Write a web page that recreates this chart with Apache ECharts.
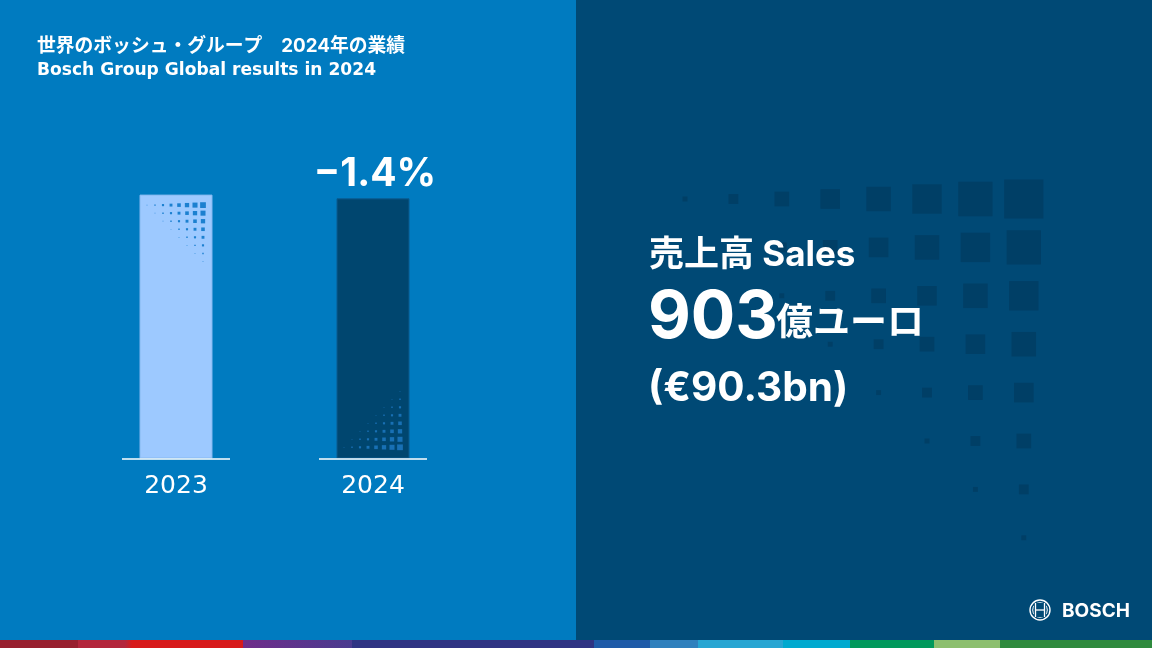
<!DOCTYPE html>
<html><head><meta charset="utf-8">
<script src="https://cdn.jsdelivr.net/npm/echarts@6/dist/echarts.min.js"></script>
<style>html,body{margin:0;padding:0;background:#007BC0}#c{width:1152px;height:648px}</style>
</head><body><div id="c"></div>
<script>
const categories = ['2023', '2024'];
const salesBn = [91.6, 90.3];
const changeLabels = ['', '\u22121.4%'];
const patternCorner = ['topRight', 'bottomRight'];
const titleJa = '世界のボッシュ・グループ\u30002024年の業績';
const titleEn = 'Bosch Group Global results in 2024';
const headline = '売上高 Sales';
const bigValue = '903';
const bigUnit = '億ユーロ';
const valueEur = '(€90.3bn)';

const LAT = "Inter,'Noto Sans','Noto Sans CJK JP',sans-serif";
const CJK = "Inter,'Noto Sans CJK JP','Noto Sans',sans-serif";

const barFill = ['#9DC9FF', '#00466F'];
const barStroke = ['#86B9F0', '#0B5A8E'];
const dotFill = ['#1C80D0', '#1870B4'];

function renderBar(params, api) {
  const i = api.value(0), v = api.value(1);
  const top = api.coord([i, v]);
  const base = api.coord([i, 0]);
  const cx = top[0], w = 72, left = cx - w / 2;
  const h = base[1] - top[1];
  const children = [{
    type: 'rect', shape: { x: left, y: top[1], width: w, height: h },
    style: { fill: barFill[i], stroke: barStroke[i], lineWidth: 1 }
  }];
  const corner = patternCorner[i];
  for (let r = 0; r < 8; r++) {
    for (let c = 0; c < 8; c++) {
      let k, cyy;
      if (corner === 'topRight') { k = c - r + 1; cyy = top[1] + 10 + 8.05 * r; }
      else { k = c - (7 - r) + 1; cyy = base[1] - 10.7 - 8 * (7 - r); }
      if (k < 1) continue;
      const s = 0.72 * k;
      const cxx = left + 7 + 8 * c;
      children.push({ type: 'rect', shape: { x: cxx - s / 2, y: cyy - s / 2, width: s, height: s },
        style: { fill: dotFill[i] } });
    }
  }
  children.push({ type: 'line', shape: { x1: cx - 54, y1: base[1] + 1, x2: cx + 54, y2: base[1] + 1 },
    style: { stroke: '#ffffff', lineWidth: 1.5 } });
  if (changeLabels[i]) {
    children.push({ type: 'text', style: { text: changeLabels[i], x: cx + 2, y: top[1] - 25,
      align: 'center', verticalAlign: 'middle', fill: '#ffffff',
      font: "bold 39px " + LAT } });
  }
  return { type: 'group', children };
}

const graphics = [];
graphics.push({ type: 'rect', shape: { x: 576, y: 0, width: 576, height: 640 }, style: { fill: '#004975' } });
for (let r = 0; r < 8; r++) {
  for (let c = r; c < 8; c++) {
    const s = 4.9 * (c - r + 1);
    const x = 685 + 48.4 * c, y = 199 + 48.4 * r;
    graphics.push({ type: 'rect', shape: { x: x - s / 2, y: y - s / 2, width: s, height: s }, style: { fill: '#003F66' } });
  }
}
graphics.push({ type: 'rect', shape: { x: 0, y: 640, width: 1152, height: 8 }, style: {
  fill: new echarts.graphic.LinearGradient(0, 0, 1, 0, [
    { offset: 0, color: '#98202F' }, { offset: 78/1152, color: '#98202F' },
    { offset: 78/1152, color: '#B3263C' }, { offset: 125/1152, color: '#B3263C' },
    { offset: 132/1152, color: '#D71A1B' }, { offset: 243/1152, color: '#D71A1B' },
    { offset: 243/1152, color: '#6F2D8A' }, { offset: 352/1152, color: '#4A3B8F' },
    { offset: 352/1152, color: '#2F3483' }, { offset: 594/1152, color: '#2F3483' },
    { offset: 594/1152, color: '#1F5BA8' }, { offset: 650/1152, color: '#1F5BA8' },
    { offset: 650/1152, color: '#2F80BD' }, { offset: 698/1152, color: '#2F80BD' },
    { offset: 698/1152, color: '#27A5D2' }, { offset: 783/1152, color: '#27A5D2' },
    { offset: 783/1152, color: '#00A9CF' }, { offset: 850/1152, color: '#00A9CF' },
    { offset: 850/1152, color: '#00995C' }, { offset: 934/1152, color: '#00995C' },
    { offset: 934/1152, color: '#8CBF6E' }, { offset: 1000/1152, color: '#8CBF6E' },
    { offset: 1000/1152, color: '#2F8A3E' }, { offset: 1, color: '#2F8A3E' }
  ]) } });
graphics.push({ type: 'text', style: { text: titleJa, x: 37, y: 46, verticalAlign: 'middle', fill: '#fff', font: "bold 18.8px " + CJK } });
graphics.push({ type: 'text', style: { text: titleEn, x: 37, y: 71, verticalAlign: 'middle', fill: '#fff', font: "bold 17.1px 'DejaVu Sans',sans-serif" } });
graphics.push({ type: 'text', style: { text: headline, x: 649, y: 255, verticalAlign: 'middle', fill: '#fff', font: "bold 35px " + CJK } });
graphics.push({ type: 'text', style: { text: bigValue, x: 648, y: 318, verticalAlign: 'middle', fill: '#fff', font: "bold 66px " + LAT } });
graphics.push({ type: 'text', style: { text: bigUnit, x: 776, y: 324, verticalAlign: 'middle', fill: '#fff', font: "bold 37px " + CJK } });
graphics.push({ type: 'text', style: { text: valueEur, x: 648, y: 389, verticalAlign: 'middle', fill: '#fff', font: "bold 40.5px " + LAT } });
// Bosch logo
graphics.push({ type: 'circle', shape: { cx: 1040, cy: 610, r: 10 }, style: { fill: 'none', stroke: '#fff', lineWidth: 1.4 } });
graphics.push({ type: 'circle', shape: { cx: 1040, cy: 610, r: 7.3 }, style: { fill: 'none', stroke: '#fff', lineWidth: 1 } });
graphics.push({ type: 'rect', shape: { x: 1034, y: 603, width: 12, height: 14 }, style: { fill: '#004975' } });
graphics.push({ type: 'line', shape: { x1: 1035.5, y1: 603, x2: 1035.5, y2: 617 }, style: { stroke: '#fff', lineWidth: 1.3 } });
graphics.push({ type: 'line', shape: { x1: 1044.5, y1: 603, x2: 1044.5, y2: 617 }, style: { stroke: '#fff', lineWidth: 1.3 } });
graphics.push({ type: 'line', shape: { x1: 1035.5, y1: 610, x2: 1044.5, y2: 610 }, style: { stroke: '#fff', lineWidth: 1.3 } });
graphics.push({ type: 'text', style: { text: 'BOSCH', x: 1062, y: 611, verticalAlign: 'middle', fill: '#fff', font: "bold 19px " + LAT } });

const chart = echarts.init(document.getElementById('c'), null, { renderer: 'canvas' });
chart.setOption({
  backgroundColor: '#007BC0',
  animation: false,
  grid: { left: 77.5, width: 394, top: 171, height: 287 },
  xAxis: { type: 'category', data: categories, axisLine: { show: false }, axisTick: { show: false },
    axisLabel: { color: '#fff', fontSize: 25, margin: 16, fontFamily: "'DejaVu Sans',sans-serif" } },
  yAxis: { type: 'value', min: 0, max: 100, show: false },
  series: [{ type: 'custom', renderItem: renderBar, encode: { x: 0, y: 1 },
    data: salesBn.map((v, i) => [i, v]) }],
  graphic: graphics
});
</script></body></html>
